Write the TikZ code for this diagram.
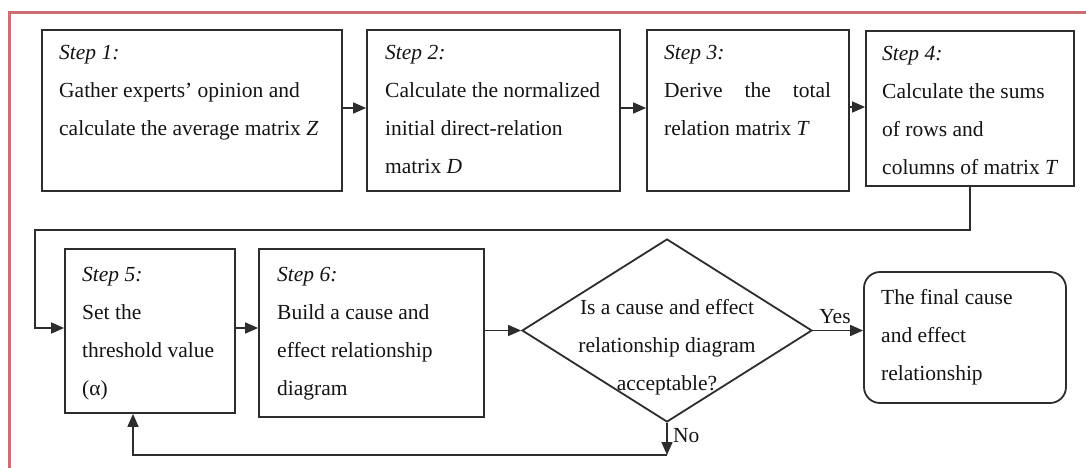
\documentclass[tikz,border=0pt]{standalone}
\usepackage{fontspec}
\setmainfont{Liberation Serif}
\usetikzlibrary{arrows.meta,shapes.geometric}
\definecolor{framered}{RGB}{205,110,115}
\definecolor{boxline}{RGB}{45,45,45}
\definecolor{ink}{RGB}{20,20,20}
\tikzset{
  stepbox/.style={draw=boxline, line width=1.8pt, inner sep=0pt, rectangle},
  txt/.style={anchor=north west, inner sep=0pt, align=left, text=ink,
    font=\fontsize{21.5}{38}\selectfont},
  ctxt/.style={anchor=north, inner sep=0pt, align=center, text=ink,
    font=\fontsize{21.5}{38}\selectfont},
  lbl/.style={inner sep=0pt, text=ink, font=\fontsize{21.5}{26}\selectfont},
  conn/.style={draw=boxline, line width=1.6pt},
  arr/.style={conn, -{Triangle[length=13pt,width=11pt]}},
}
\begin{document}
\begin{tikzpicture}[x=1pt,y=-1pt]
\useasboundingbox (0,0) rectangle (1086,468);
\clip (0,0) rectangle (1086,468);
\fill[white] (0,0) rectangle (1086,468);
\draw[framered, line width=2.6pt] (9.3,12.3) rectangle (1130,520);

% row 1
\node[stepbox, minimum width=300pt, minimum height=161pt] (s1) at (192,110.5) {};
\node[stepbox, minimum width=253pt, minimum height=161pt] (s2) at (493.5,110.5) {};
\node[stepbox, minimum width=202pt, minimum height=161pt] (s3) at (748,110.5) {};
\node[stepbox, minimum width=208pt, minimum height=155pt] (s4) at (970,108.5) {};

\node[txt] (t1) at (59,45.4) {\textit{Step 1:}\\Gather experts’ opinion and\\calculate the average matrix \textit{Z}};
\node[txt] (t2) at (385,45.4) {\textit{Step 2:}\\Calculate the normalized\\initial direct-relation\\matrix \textit{D}};
\node[txt] (t3) at (664,45.4) {\textit{Step 3:}\\\makebox[167pt][s]{Derive the total}\\relation matrix \textit{T}};
\node[txt] (t4) at (882,46.4) {\textit{Step 4:}\\Calculate the sums\\of rows and\\columns of matrix \textit{T}};

% row 2
\node[stepbox, minimum width=170pt, minimum height=164pt] (s5) at (150,331) {};
\node[stepbox, minimum width=225pt, minimum height=168pt] (s6) at (371.5,333) {};
\node[draw=boxline, line width=1.8pt, diamond, inner sep=0pt,
      minimum width=290pt, minimum height=183pt] (d) at (667,330.5) {};
\node[stepbox, rounded corners=16pt, minimum width=202pt, minimum height=131pt] (fin) at (965,337.5) {};

\node[txt] (t5) at (82,267.4) {\textit{Step 5:}\\Set the\\threshold value\\(α)};
\node[txt] (t6) at (277,267.4) {\textit{Step 6:}\\Build a cause and\\effect relationship\\diagram};
\node[ctxt] (td) at (667,299.4) {Is a cause and effect\\relationship diagram\\acceptable?};
\node[txt] (tf) at (881,289.4) {The final cause\\and effect\\relationship};

% connectors
\coordinate (c1) at (35,230);
\coordinate (c2) at (667,455);
\coordinate (c3) at (133,455);
\draw[arr] (s1.east |- 0,108) -- (s2.west |- 0,108);
\draw[arr] (s2.east |- 0,108) -- (s3.west |- 0,108);
\draw[arr] (s3.east |- 0,107) -- (s4.west |- 0,107);
\draw[arr] (s4.south) |- (c1) |- (s5.west |- 0,328);
\draw[arr] (s5.east |- 0,328) -- (s6.west |- 0,328);
\draw[arr] (d.west -| s6.east) -- (d.west);
\draw[arr] (d.east) -- (d.east -| fin.west);
\draw[arr] (d.south) -- (c2);
\draw[arr] (c2) -- (c3) -- (c3 |- s5.south);

\node[lbl] (yes) at (835,317) {Yes};
\node[lbl, anchor=west] (no) at (673,436) {No};
\end{tikzpicture}
\end{document}
